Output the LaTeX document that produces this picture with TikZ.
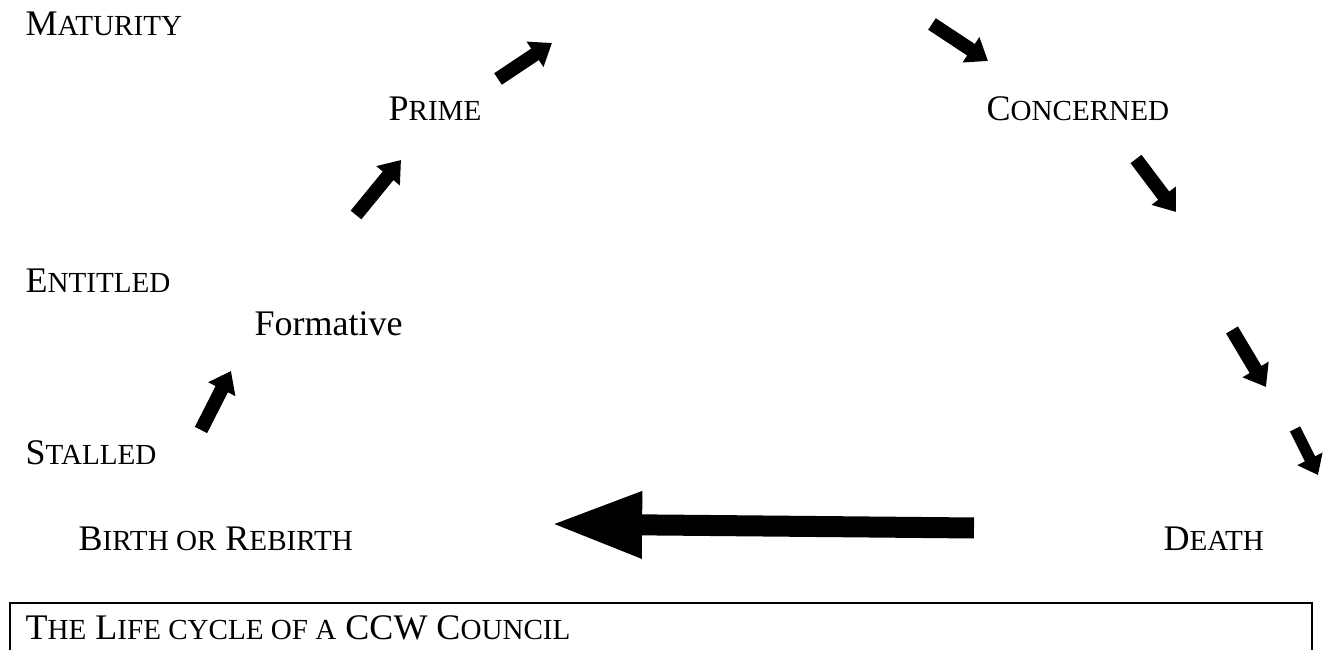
\documentclass[tikz,border=0pt]{standalone}
\usepackage{fontspec}
\setmainfont{Liberation Serif}
\usetikzlibrary{arrows.meta}
\tikzstyle{stage} = [inner sep=0pt, anchor=base west, font=\fontsize{12}{14}\selectfont]
\tikzstyle{blockarrow} = [line width=4.6pt, -{Triangle[width=9.7pt, length=6.8pt]}]
\newcommand{\lowcaps}[1]{{\fontsize{9.7}{12}\selectfont #1}}

\begin{document}
\begin{tikzpicture}[x=0.3333pt, y=-0.3333pt]

        \useasboundingbox (0,0) rectangle (1323,650);
        \clip (0,0) rectangle (1323,650);

        \node (maturity) [stage] at (25,36)   {M\lowcaps{ATURITY}};
        \node (prime)    [stage] at (388,121) {P\lowcaps{RIME}};
        \node (concern)  [stage] at (986,121) {C\lowcaps{ONCERNED}};
        \node (entitled) [stage] at (25,293)  {E\lowcaps{NTITLED}};
        \node (formative)[stage] at (254,336) {Formative};
        \node (stalled)  [stage] at (25,465)  {S\lowcaps{TALLED}};
        \node (birth)    [stage] at (78,551)  {B\lowcaps{IRTH OR} R\lowcaps{EBIRTH}};
        \node (death)    [stage] at (1163,551) {D\lowcaps{EATH}};

        % block arrows round the cycle
        \coordinate (a1s) at (201,430);  \coordinate (a1e) at (231,371);
        \coordinate (a2s) at (356,215);  \coordinate (a2e) at (401,160);
        \coordinate (a3s) at (498,79);   \coordinate (a3e) at (552,43);
        \coordinate (a4s) at (932,24);   \coordinate (a4e) at (988,61);
        \coordinate (a5s) at (1136,159); \coordinate (a5e) at (1176,212);
        \coordinate (a6s) at (1232,330); \coordinate (a6e) at (1266,387);
        \coordinate (a7s) at (1295,429); \coordinate (a7e) at (1318,475);
        \coordinate (a8s) at (974,528);  \coordinate (a8e) at (550,524);

        \draw[blockarrow] (a1s) -- (a1e);
        \draw[blockarrow] (a2s) -- (a2e);
        \draw[blockarrow] (a3s) -- (a3e);
        \draw[blockarrow] (a4s) -- (a4e);
        \draw[blockarrow] (a5s) -- (a5e);
        \draw[blockarrow] (a6s) -- (a6e);
        \draw[blockarrow, line width=3.8pt, -{Triangle[width=9pt, length=6pt]}] (a7s) -- (a7e);
        \draw[line width=7pt, -{Triangle[width=20.3pt, length=30.7pt]}] (a8s) -- (a8e);

        % caption box
        \draw[line width=0.7pt] (10,603) rectangle (1312,700);
        \node (title) [stage] at (25,640) {T\lowcaps{HE} L\lowcaps{IFE CYCLE OF A} CCW C\lowcaps{OUNCIL}};

    \end{tikzpicture}
\end{document}
